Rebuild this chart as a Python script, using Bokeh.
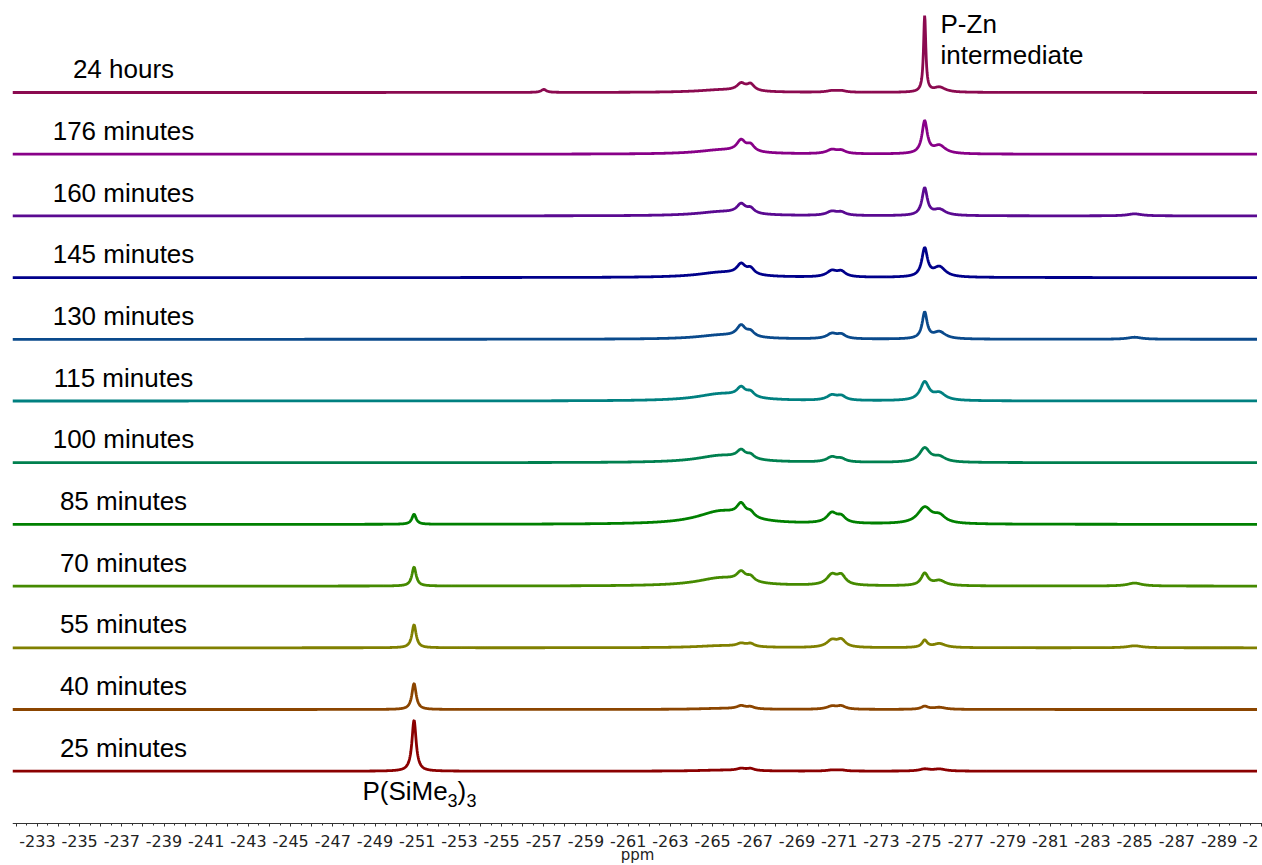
import numpy as np
from bokeh.plotting import figure
from bokeh.models import Range1d, FixedTicker, Label, ColumnDataSource, CustomJSTickFormatter
from bokeh.embed import file_html
from bokeh.resources import INLINE
from bokeh.core.properties import value

# ---------------- data ----------------
# traces listed top to bottom
trace_labels = ["24 hours", "176 minutes", "160 minutes", "145 minutes", "130 minutes",
                "115 minutes", "100 minutes", "85 minutes", "70 minutes", "55 minutes",
                "40 minutes", "25 minutes"]
trace_colors = ["#8B0A50", "#880088", "#5A0A91", "#00008B", "#0A4A8C", "#008080",
                "#00804F", "#008000", "#458A00", "#808000", "#8B4500", "#8B0000"]

# resonances (ppm) and their half widths (ppm)
peak_ppm = [-250.85, -265.4, -266.35, -266.8, -270.65, -271.1, -275.05, -275.75, -285.0, -257.0]
peak_hwhm = [0.12, 1.4, 0.25, 0.22, 0.3, 0.25, None, 0.35, 0.4, 0.15]
# per-trace width of the P-Zn resonance (ppm)
pzn_hwhm = [0.065, 0.15, 0.15, 0.16, 0.14, 0.25, 0.3, 0.4, 0.2, 0.15, 0.2, 0.3]
# heights of each resonance in each trace (relative intensity units)
peak_heights = [
    [0, 2.5, 7, 6.5, 1.5, 1.5, 76, 5, 0, 3],     # 24 hours
    [0, 4, 11, 6.5, 4, 3, 32, 8, 0, 0],          # 176 minutes
    [0, 4, 9, 5, 4, 3, 27, 6, 2, 0],             # 160 minutes
    [0, 5, 10, 6, 6, 5, 28, 10, 0, 0],           # 145 minutes
    [0, 4, 11, 5, 5, 4, 26, 7, 2, 0],            # 130 minutes
    [0, 7, 9, 5, 5, 4, 18, 7, 0, 0],             # 115 minutes
    [0, 7, 8, 4, 5, 3, 14, 5, 0, 0],             # 100 minutes
    [10, 13, 12, 5, 10, 6, 16, 7, 0, 0],         # 85 minutes
    [19, 8, 9, 5, 10, 9, 12, 5, 3, 0],           # 70 minutes
    [23, 2, 3, 3, 7, 7, 7, 4, 2, 0],             # 55 minutes
    [26, 1, 3, 2, 3, 3, 3, 2, 0, 0],             # 40 minutes
    [51, 1, 2, 2, 1, 1, 2, 2, 0, 0],             # 25 minutes
]
tick_values = list(range(-291, -231))                 # major ticks (ppm)
tick_label_values = list(range(-233, -290, -2))       # labelled ticks (ppm)
axis_title = "ppm"

# ---------------- layout ----------------
W, H = 1262, 865
X0, X1 = -231.82, -291.06        # visible ppm window (left, right)
FRAME_W = W - 12
PPX = FRAME_W / (X0 - X1)        # pixels per ppm
SPACING = 61.7                    # vertical offset between traces
AXIS_PY = 822.7                   # pixel row of the axis line


def px2ppm(px):
    return X0 - (px - 12) / PPX


def py2y(py):
    return H - py


def shift(size):                  # renderer's alphabetic-baseline offset
    return 0.36 * size


x = np.linspace(-231.82, -290.8, 3000)

p = figure(frame_width=FRAME_W, frame_height=H,
           x_range=Range1d(X0, X1), y_range=Range1d(0, H),
           output_backend="svg", toolbar_location=None,
           min_border_left=12, min_border_right=0, min_border_top=0, min_border_bottom=0,
           y_axis_location=None, background_fill_color="white", border_fill_color="white")
p.outline_line_color = None
p.grid.visible = False

for i, (lab, col, hts) in enumerate(zip(trace_labels, trace_colors, peak_heights)):
    base = py2y(92) - i * SPACING
    y = np.full_like(x, base)
    for j, (c, h) in enumerate(zip(peak_ppm, hts)):
        if h == 0:
            continue
        w = pzn_hwhm[i] if peak_hwhm[j] is None else peak_hwhm[j]
        y = y + h / (1 + ((x - c) / w) ** 2)
    p.line(x, y, line_color=col, line_width=2.8)

lab_src = ColumnDataSource(dict(
    x=[px2ppm(123)] * len(trace_labels),
    y=[py2y(92) - i * SPACING + 14 + shift(26) for i in range(len(trace_labels))],
    t=trace_labels))
p.text("x", "y", text="t", source=lab_src, text_font=value("Liberation Sans"),
       text_font_size="26px", text_align="center", text_baseline="alphabetic",
       text_color="black")


# annotations
def lab(txt, px, py, size=26, align="left", font="Liberation Sans", color="black"):
    p.add_layout(Label(x=px2ppm(px), y=py2y(py) + shift(size), text=txt, text_font=font,
                       text_font_size=f"{size}px", text_align=align,
                       text_baseline="alphabetic", text_color=color))


lab("P-Zn", 940, 33)
lab("intermediate", 940, 63.5)
lab("P(SiMe", 362, 800)
lab("3", 447, 806, size=18)
lab(")", 457, 800)
lab("3", 466, 806, size=18)

# x axis drawn at a fixed row inside the frame
ax = p.xaxis[0]
ax.fixed_location = py2y(AXIS_PY)
ax.ticker = FixedTicker(ticks=tick_values,
                        minor_ticks=[v + 0.5 for v in range(-292, -230)])
ax.formatter = CustomJSTickFormatter(code="return '';")
ax.axis_line_color = "#333333"
ax.major_tick_line_color = "#333333"
ax.minor_tick_line_color = "#333333"
ax.major_tick_in = 0
ax.major_tick_out = 3
ax.minor_tick_in = 0
ax.minor_tick_out = 2

# tick labels, placed through the x scale
TICK_Y = py2y(846) + shift(16)
tk = ColumnDataSource(dict(x=tick_label_values,
                           y=[TICK_Y] * len(tick_label_values),
                           t=[str(v) for v in tick_label_values]))
p.text("x", "y", text="t", source=tk, text_font=value("DejaVu Sans"),
       text_font_size="16px", text_align="center", text_baseline="alphabetic",
       text_color="#222222")
# truncated last tick label at the right edge
p.text(x=[px2ppm(1242)], y=[TICK_Y], text=["-2"],
       text_font=value("DejaVu Sans"), text_font_size="16px", text_align="left",
       text_baseline="alphabetic", text_color="#222222")
# axis title
p.text(x=[(X0 + X1) / 2], y=[py2y(860) + shift(15)], text=[axis_title],
       text_font=value("DejaVu Sans"), text_font_size="15px", text_align="center",
       text_baseline="alphabetic", text_color="#222222")

open("out.html", "w").write(file_html(p, INLINE))
